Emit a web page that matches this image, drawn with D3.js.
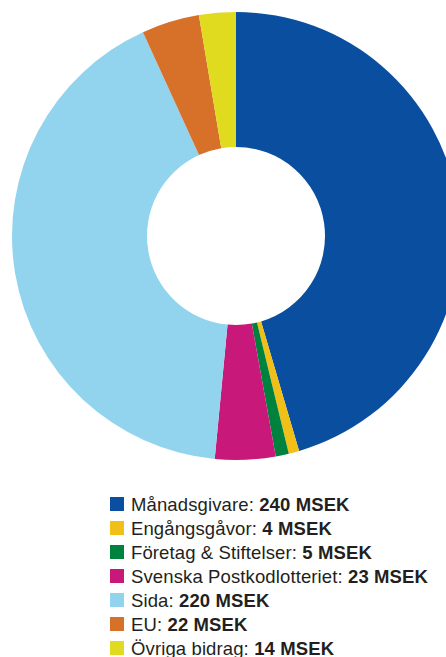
<!DOCTYPE html>
<html>
<head>
<meta charset="utf-8">
<script src="https://cdn.jsdelivr.net/npm/d3@7"></script>
<style>
  body { margin: 0; background: #fff; overflow: hidden; }
  svg { display: block; font-family: "Liberation Sans", Arial, sans-serif; }
</style>
</head>
<body>
<div id="chart"></div>
<script>
// Data
const labels = ["Månadsgivare", "Engångsgåvor", "Företag & Stiftelser", "Svenska Postkodlotteriet", "Sida", "EU", "Övriga bidrag"];
const values = [240, 4, 5, 23, 220, 22, 14];
const colors = ["#0a4ea0", "#f0c018", "#00823f", "#c8197a", "#92d3ee", "#d7712a", "#e0db1e"];

function createDonut() {
    const width = 446, height = 657;
    const cx = 236, cy = 236;
    const outerR = 224, innerR = 89;

    const svg = d3.select("#chart").append("svg")
        .attr("width", width)
        .attr("height", height);

    const data = labels.map((l, i) => ({ label: l, value: values[i], color: colors[i] }));

    const pie = d3.pie()
        .value(d => d.value)
        .sort(null);

    const arc = d3.arc()
        .innerRadius(innerR)
        .outerRadius(outerR);

    const g = svg.append("g")
        .attr("transform", `translate(${cx},${cy})`);

    g.selectAll("path")
        .data(pie(data))
        .enter().append("path")
        .attr("d", arc)
        .style("fill", d => d.data.color);

    // Legend
    const legend = svg.selectAll(".legend")
        .data(data)
        .enter().append("g")
        .attr("class", "legend")
        .attr("transform", (d, i) => `translate(110, ${511 + i * 24})`);

    legend.append("rect")
        .attr("x", 0)
        .attr("y", -14)
        .attr("width", 14)
        .attr("height", 14)
        .style("fill", d => d.color);

    const txt = legend.append("text")
        .attr("x", 21)
        .attr("y", 0)
        .style("font-size", "18.5px")
        .style("letter-spacing", "0.12px")
        .style("fill", "#231f20");

    txt.append("tspan").text(d => d.label + ": ");
    txt.append("tspan")
        .style("font-weight", "bold")
        .text(d => d.value + " MSEK");
}

createDonut();
</script>
</body>
</html>
